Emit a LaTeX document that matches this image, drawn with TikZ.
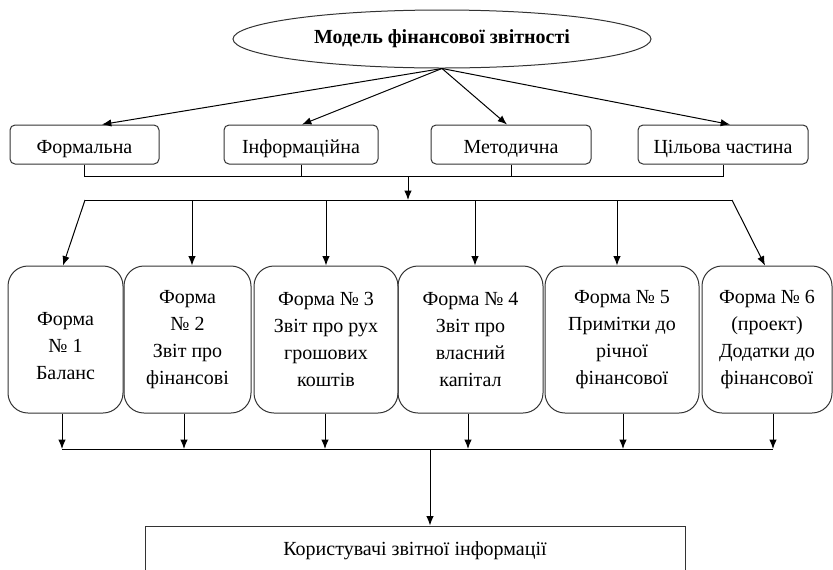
\documentclass[tikz,border=0pt]{standalone}
\usepackage{fontspec}
\setmainfont{Liberation Serif}
\usetikzlibrary{arrows.meta,shapes.geometric,calc}

\begin{document}
\begin{tikzpicture}[x=0.75pt,y=-0.75pt,
    line width=0.75pt, font=\fontsize{15pt}{20.25pt}\selectfont,
    arr/.style={-{Latex[length=7pt,width=5.5pt]}},
    kind/.style={draw=black!80, rounded corners=3.75pt, minimum height=29.25pt, inner sep=0pt,
                 text height=13pt, text depth=0pt},
    form/.style={draw=black!80, rounded corners=15pt, minimum height=110.25pt, inner sep=0pt, align=center},
    user/.style={draw=black!80, minimum height=37.5pt, minimum width=405pt, inner sep=0pt}]

  \clip (0,0) rectangle (833,569);
  \useasboundingbox (0,0) rectangle (833,569);

  % Model
  \node[ellipse, draw=black!80, minimum width=313.5pt, minimum height=43.5pt, inner sep=0pt,
        font=\fontsize{15pt}{18pt}\selectfont\bfseries] (model) at (442,39) {Модель фінансової звітності};

  % Four parts of the model
  \node[kind, minimum width=111.75pt] (formal) at (84.5,144.5) {Формальна};
  \node[kind, minimum width=115.5pt]  (inform) at (301,144.5)  {Інформаційна};
  \node[kind, minimum width=120pt]    (metod)  at (511,144.5)  {Методична};
  \node[kind, minimum width=127.5pt]  (goal)   at (723,144.5)  {Цільова частина};

  \draw[arr] (model.south) -- ($(formal.north)+(17.5,0)$);
  \draw[arr] (model.south) -- ($(inform.north)+(1,0)$);
  \draw[arr] (model.south) -- ($(metod.north)+(-4,0)$);
  \draw[arr] (model.south) -- ($(goal.north)+(7,0)$);

  % Joining the parts
  \coordinate (join) at (408,176);
  \coordinate (split) at (408,200);
  \draw (formal.south) -- (formal.south |- join) -- (goal.south |- join) -- (goal.south);
  \foreach \nd in {inform, metod}{
    \draw (\nd.south) -- (\nd.south |- join);
  }
  \draw[arr] (join) -- (split);

  % Six report forms
  \node[form, minimum width=86.25pt] (f1) at (65.5,339.5)  {\\Форма\\№ 1\\Баланс};
  \node[form, minimum width=95.25pt] (f2) at (187.5,339.5) {Форма\\№ 2\\Звіт про\\фінансові};
  \node[form, minimum width=108pt]   (f3) at (326,339.5)   {Форма № 3\\Звіт про рух\\грошових\\коштів};
  \node[form, minimum width=108.75pt](f4) at (470.5,339.5) {Форма № 4\\Звіт про\\власний\\капітал};
  \node[form, minimum width=115.5pt] (f5) at (622,339.5)   {Форма № 5\\Примітки до\\річної\\фінансової};
  \node[form, minimum width=97.5pt]  (f6) at (767,339.5)   {Форма № 6\\(проект)\\Додатки до\\фінансової};

  \coordinate (u1) at (85,200);
  \coordinate (u6) at (732,200);
  \draw (u1) -- (u6);
  \draw[arr] (u1) -- ($(f1.north)+(-2.5,0)$);
  \foreach \nd/\xv in {f2/192, f3/326, f4/475, f5/617}{
    \coordinate (u) at (\xv,200);
    \draw[arr] (u) -- (u |- \nd.north);
  }
  \draw[arr] (u6) -- ($(f6.north)+(-2,0)$);

  % Users
  \node[user] (users) at (415,551) {Користувачі звітної інформації};

  \coordinate (d1) at (62,449);
  \coordinate (d6) at (773,449);
  \coordinate (d0) at (430,449);
  \draw (d1) -- (d6);
  \foreach \nd/\xv in {f1/62, f2/184, f3/325, f4/468, f5/623, f6/773}{
    \coordinate (d) at (\xv,449);
    \draw[arr] (d |- \nd.south) -- (d);
  }
  \draw[arr] (d0) -- (d0 |- users.north);

\end{tikzpicture}
\end{document}
